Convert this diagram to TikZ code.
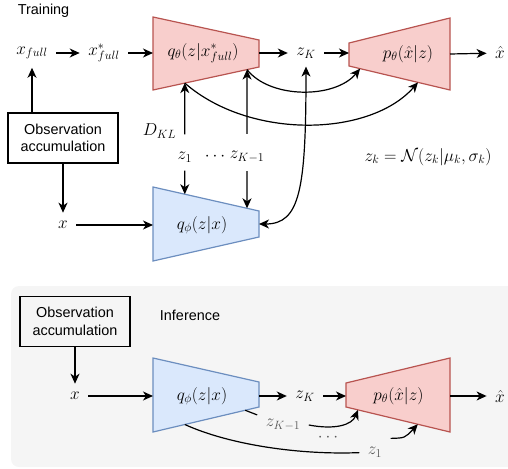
\documentclass[tikz,border=0pt]{standalone}
\usepackage{fontspec}
\newfontfamily\labelfont{Liberation Sans}
\usepackage{tikz}
\usetikzlibrary{calc}
\usetikzlibrary{arrows.meta}
\usetikzlibrary{positioning}
\definecolor{thetafill}{HTML}{F8CECC}
\definecolor{thetaline}{HTML}{B85450}
\definecolor{phifill}{HTML}{DAE8FC}
\definecolor{philine}{HTML}{6C8EBF}
\definecolor{panel}{HTML}{F5F5F5}
\tikzset{theta/.style={draw=thetaline,fill=thetafill,line width=1.2pt}}
\tikzset{phi/.style={draw=philine,fill=phifill,line width=1.2pt}}
\tikzset{var/.style={font=\fontsize{17}{20}\selectfont,inner sep=8pt}}
\tikzset{txt/.style={font=\labelfont\fontsize{14.4}{17.5}\selectfont,inner sep=2pt}}
\tikzset{obs/.style={txt,rectangle,draw=black,line width=1.2pt,minimum width=110pt,minimum height=50pt,align=center}}
\tikzset{lbl/.style={var,text=black!65}}

\begin{document}
\begin{tikzpicture}[x=1pt,y=-1pt,line width=1.2pt,>={Stealth[length=10pt,width=9pt,inset=3pt]}]
\useasboundingbox (0,0) rectangle (508,468);
\fill[panel, rounded corners=8pt] (11,286) rectangle (524,467);

% training
\node[txt] (train) at (43.5,11) {Training};
\node[var] (xf) at (32,53) {$x_{full}$};
\node[var] (xfs) at (104,53) {$x^*_{full}$};
\draw[theta] (153,17) coordinate (qtA) -- (259,40) coordinate (qtB) -- (259,67) coordinate (qtC) -- (153,90) coordinate (qtD) -- cycle;
\node[var] (qt) at (203,53) {$q_\theta(z|x^*_{full})$};
\node[var] (zK) at (306,53) {$z_K$};
\draw[theta] (349,43) coordinate (ptA) -- (450,18) coordinate (ptB) -- (450,90) coordinate (ptC) -- (349,66) coordinate (ptD) -- cycle;
\node[var] (pt) at (408,54) {$p_\theta(\hat{x}|z)$};
\node[var] (xh) at (500,53) {$\hat{x}$};
\draw[->] (xf) -- (xfs);
\draw[->] (xfs) -- (xfs -| qtA);
\draw[->] (zK -| qtB) -- (zK);
\draw[->] (zK) -- (zK -| ptA);
\draw[->] (pt -| ptB) -- (xh);

\node[obs] (obs1) at (63,138) {Observation\\accumulation};
\draw[->] (obs1.north -| xf) -- (xf);
\node[var] (x1) at (63,225) {$x$};
\draw[->] (obs1) -- (x1);
\draw[phi] (153,187) coordinate (qpA) -- (259,211) coordinate (qpB) -- (259,237) coordinate (qpC) -- (153,261) coordinate (qpD) -- cycle;
\node[var] (qp) at (202,225) {$q_\phi(z|x)$};
\draw[->] (x1) -- (x1 -| qpA);

\node[var] (dkl) at (159.5,131) {$D_{KL}$};
\node[var] (z1) at (184.8,157) {$z_1$};
\node[var] (dots) at (215,157) {$\cdots$};
\node[var] (zK1) at (247,157) {$z_{K-1}$};
\draw[->] (z1.north) ++(0,-9) -- ($(qtD)!0.3!(qtC)$) coordinate (qt1);
\draw[->] (zK1.north) ++(0,-9) -- ($(qtD)!0.887!(qtC)$) coordinate (qt2);
\draw[->] (z1) -- ($(qpA)!0.3!(qpB)$);
\draw[->] (zK1) -- ($(qpA)!0.887!(qpB)$);
\draw[->] (qt2) .. controls (270,99) and (335,99) .. ($(ptD)!0.11!(ptC)$);
\draw[->] (qt1) .. controls (250,140) and (370,137) .. ($(ptD)!0.683!(ptC)$);
\draw[<->] (zK) .. controls (306,190) and (300,224) .. ($(qpB)!0.5!(qpC)$);
\node[var] (prior) at (428,157) {$z_k = \mathcal{N}(z_k|\mu_k,\sigma_k)$};

% inference
\node[obs] (obs2) at (75,321.5) {Observation\\accumulation};
\node[txt] (infer) at (190,315) {Inference};
\node[var] (x2) at (75,396) {$x$};
\draw[->] (obs2) -- (x2);
\draw[phi] (153,358) coordinate (qbA) -- (259,382) coordinate (qbB) -- (259,407) coordinate (qbC) -- (153,432) coordinate (qbD) -- cycle;
\node[var] (qb) at (202,396) {$q_\phi(z|x)$};
\node[var] (zKb) at (305,396) {$z_K$};
\draw[theta] (346,383) coordinate (pbA) -- (450,358) coordinate (pbB) -- (450,432) coordinate (pbC) -- (346,407) coordinate (pbD) -- cycle;
\node[var] (pb) at (398.5,396) {$p_\theta(\hat{x}|z)$};
\node[var] (xhb) at (500,396) {$\hat{x}$};
\draw[->] (x2) -- (x2 -| qbA);
\draw[->] (zKb -| qbB) -- (zKb);
\draw[->] (zKb) -- (zKb -| pbA);
\draw[->] (pb -| pbB) -- (xhb);

\node[lbl] (zK1b) at (283,425) {$z_{K-1}$};
\node[lbl] (dotsb) at (328,438) {$\cdots$};
\node[lbl] (z1b) at (375,452) {$z_1$};
\draw ($(qbC)!0.13!(qbD)$) -- (zK1b);
\draw[->] (zK1b.east) .. controls (335,430) and (352,425) .. ($(pbD)!0.115!(pbC)$);
\draw ($(qbD)!0.3!(qbC)$) .. controls (230,445) and (300,455) .. (z1b);
\draw[->] (z1b.north east) .. controls (405,438) .. ($(pbD)!0.69!(pbC)$);
\end{tikzpicture}
\end{document}
